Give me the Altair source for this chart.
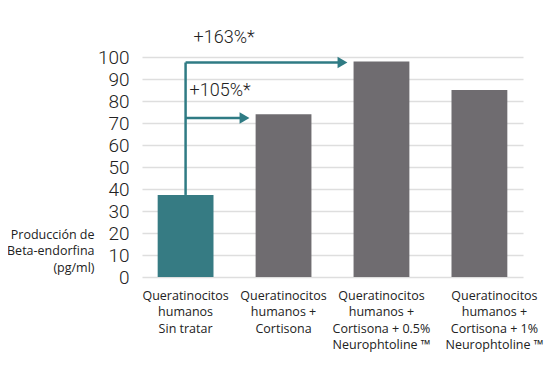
import altair as alt
import pandas as pd

categories = [
    "Queratinocitos|humanos|Sin tratar",
    "Queratinocitos|humanos +|Cortisona",
    "Queratinocitos|humanos +|Cortisona + 0.5%|Neurophtoline ™",
    "Queratinocitos|humanos +|Cortisona + 1%|Neurophtoline ™",
]
values = [37.3, 74, 98, 85]
bar_colors = ["#367b83", "#6f6c70", "#6f6c70", "#6f6c70"]

arrow_levels = [97.5, 72.3]
arrow_targets = [categories[2], categories[1]]
arrow_labels = ["+163%*", "+105%*"]
label_levels = [108.5, 84.6]
label_dx = [8, 4]

y_ticks = list(range(0, 101, 10))
y_title = ["Producción de", "Beta-endorfina", "(pg/ml)"]

TEAL = "#2f7b84"

bars_df = pd.DataFrame({"cat": categories, "value": values, "color": bar_colors})
vert_df = pd.DataFrame({"cat": [categories[0]], "y": [values[0]], "y2": [max(arrow_levels)]})
horiz_df = pd.DataFrame({"cat": [categories[0]] * 2, "target": arrow_targets, "y": arrow_levels})

xscale = alt.Scale(domain=categories, paddingInner=0.43, paddingOuter=0.16)
yscale = alt.Scale(domain=[0, 100], nice=False)

x_axis = alt.Axis(
    title=None, labelAngle=0, domain=False, ticks=False, grid=False,
    labelExpr="split(datum.value, '|')", labelPadding=12, labelLineHeight=16.5,
    labelFontSize=12.5, labelFont="Open Sans", labelColor="#222", labelBaseline="top",
    labelOverlap=False,
    labelOffset={"condition": {"test": "indexof(datum.value, '+ 1%') >= 0", "value": 15}, "value": 0},
)
y_axis = alt.Axis(
    title=y_title, titleAngle=0, titleAlign="right", titleBaseline="top",
    titleX=-48, titleY=171, titleFontSize=12.5, titleFont="Open Sans",
    titleFontWeight="normal", titleLineHeight=16.5, titleColor="#222",
    values=y_ticks, domain=False, ticks=False, grid=True, gridColor="#dedede",
    gridWidth=1.5, labelFontSize=19, labelFont="Roboto", labelFontWeight=300,
    labelPadding=13, labelColor="#222", labelOverlap=False,
)


def X(field):
    return alt.X(field, type="nominal", scale=xscale, sort=categories, axis=x_axis)


def Y(field):
    return alt.Y(field, type="quantitative", scale=yscale, axis=y_axis)


bars = alt.Chart(bars_df).mark_bar().encode(
    x=X("cat"),
    y=Y("value"),
    color=alt.Color("color:N", scale=None),
)

vert = alt.Chart(vert_df).mark_rule(color=TEAL, strokeWidth=2.5).encode(
    x=X("cat"),
    y=Y("y"),
    y2="y2:Q",
)

horiz = alt.Chart(horiz_df).mark_rule(color=TEAL, strokeWidth=2.5, x2Offset=-40).encode(
    x=X("cat"),
    x2="target:N",
    y=Y("y"),
)

heads = alt.Chart(horiz_df).mark_point(
    shape="triangle-right", filled=True, color=TEAL, size=130, opacity=1, xOffset=-39
).encode(
    x=X("target"),
    y=Y("y"),
)

label_layers = []
for txt, lvl, dx in zip(arrow_labels, label_levels, label_dx):
    df = pd.DataFrame({"cat": [categories[0]], "y": [lvl], "text": [txt]})
    label_layers.append(
        alt.Chart(df).mark_text(
            align="left", baseline="middle", fontSize=18, font="Roboto",
            fontWeight=300, color="#222", dx=dx,
        ).encode(
            x=X("cat"),
            y=Y("y"),
            text="text:N",
        )
    )

chart = alt.layer(bars, vert, horiz, heads, *label_layers).properties(
    width=381, height=220,
    autosize=alt.AutoSizeParams(type="none"),
    padding={"left": 134, "top": 49, "right": 21, "bottom": 92},
).configure_view(stroke=None)

chart.save("out.html", embed_options={"renderer": "svg", "actions": False})
